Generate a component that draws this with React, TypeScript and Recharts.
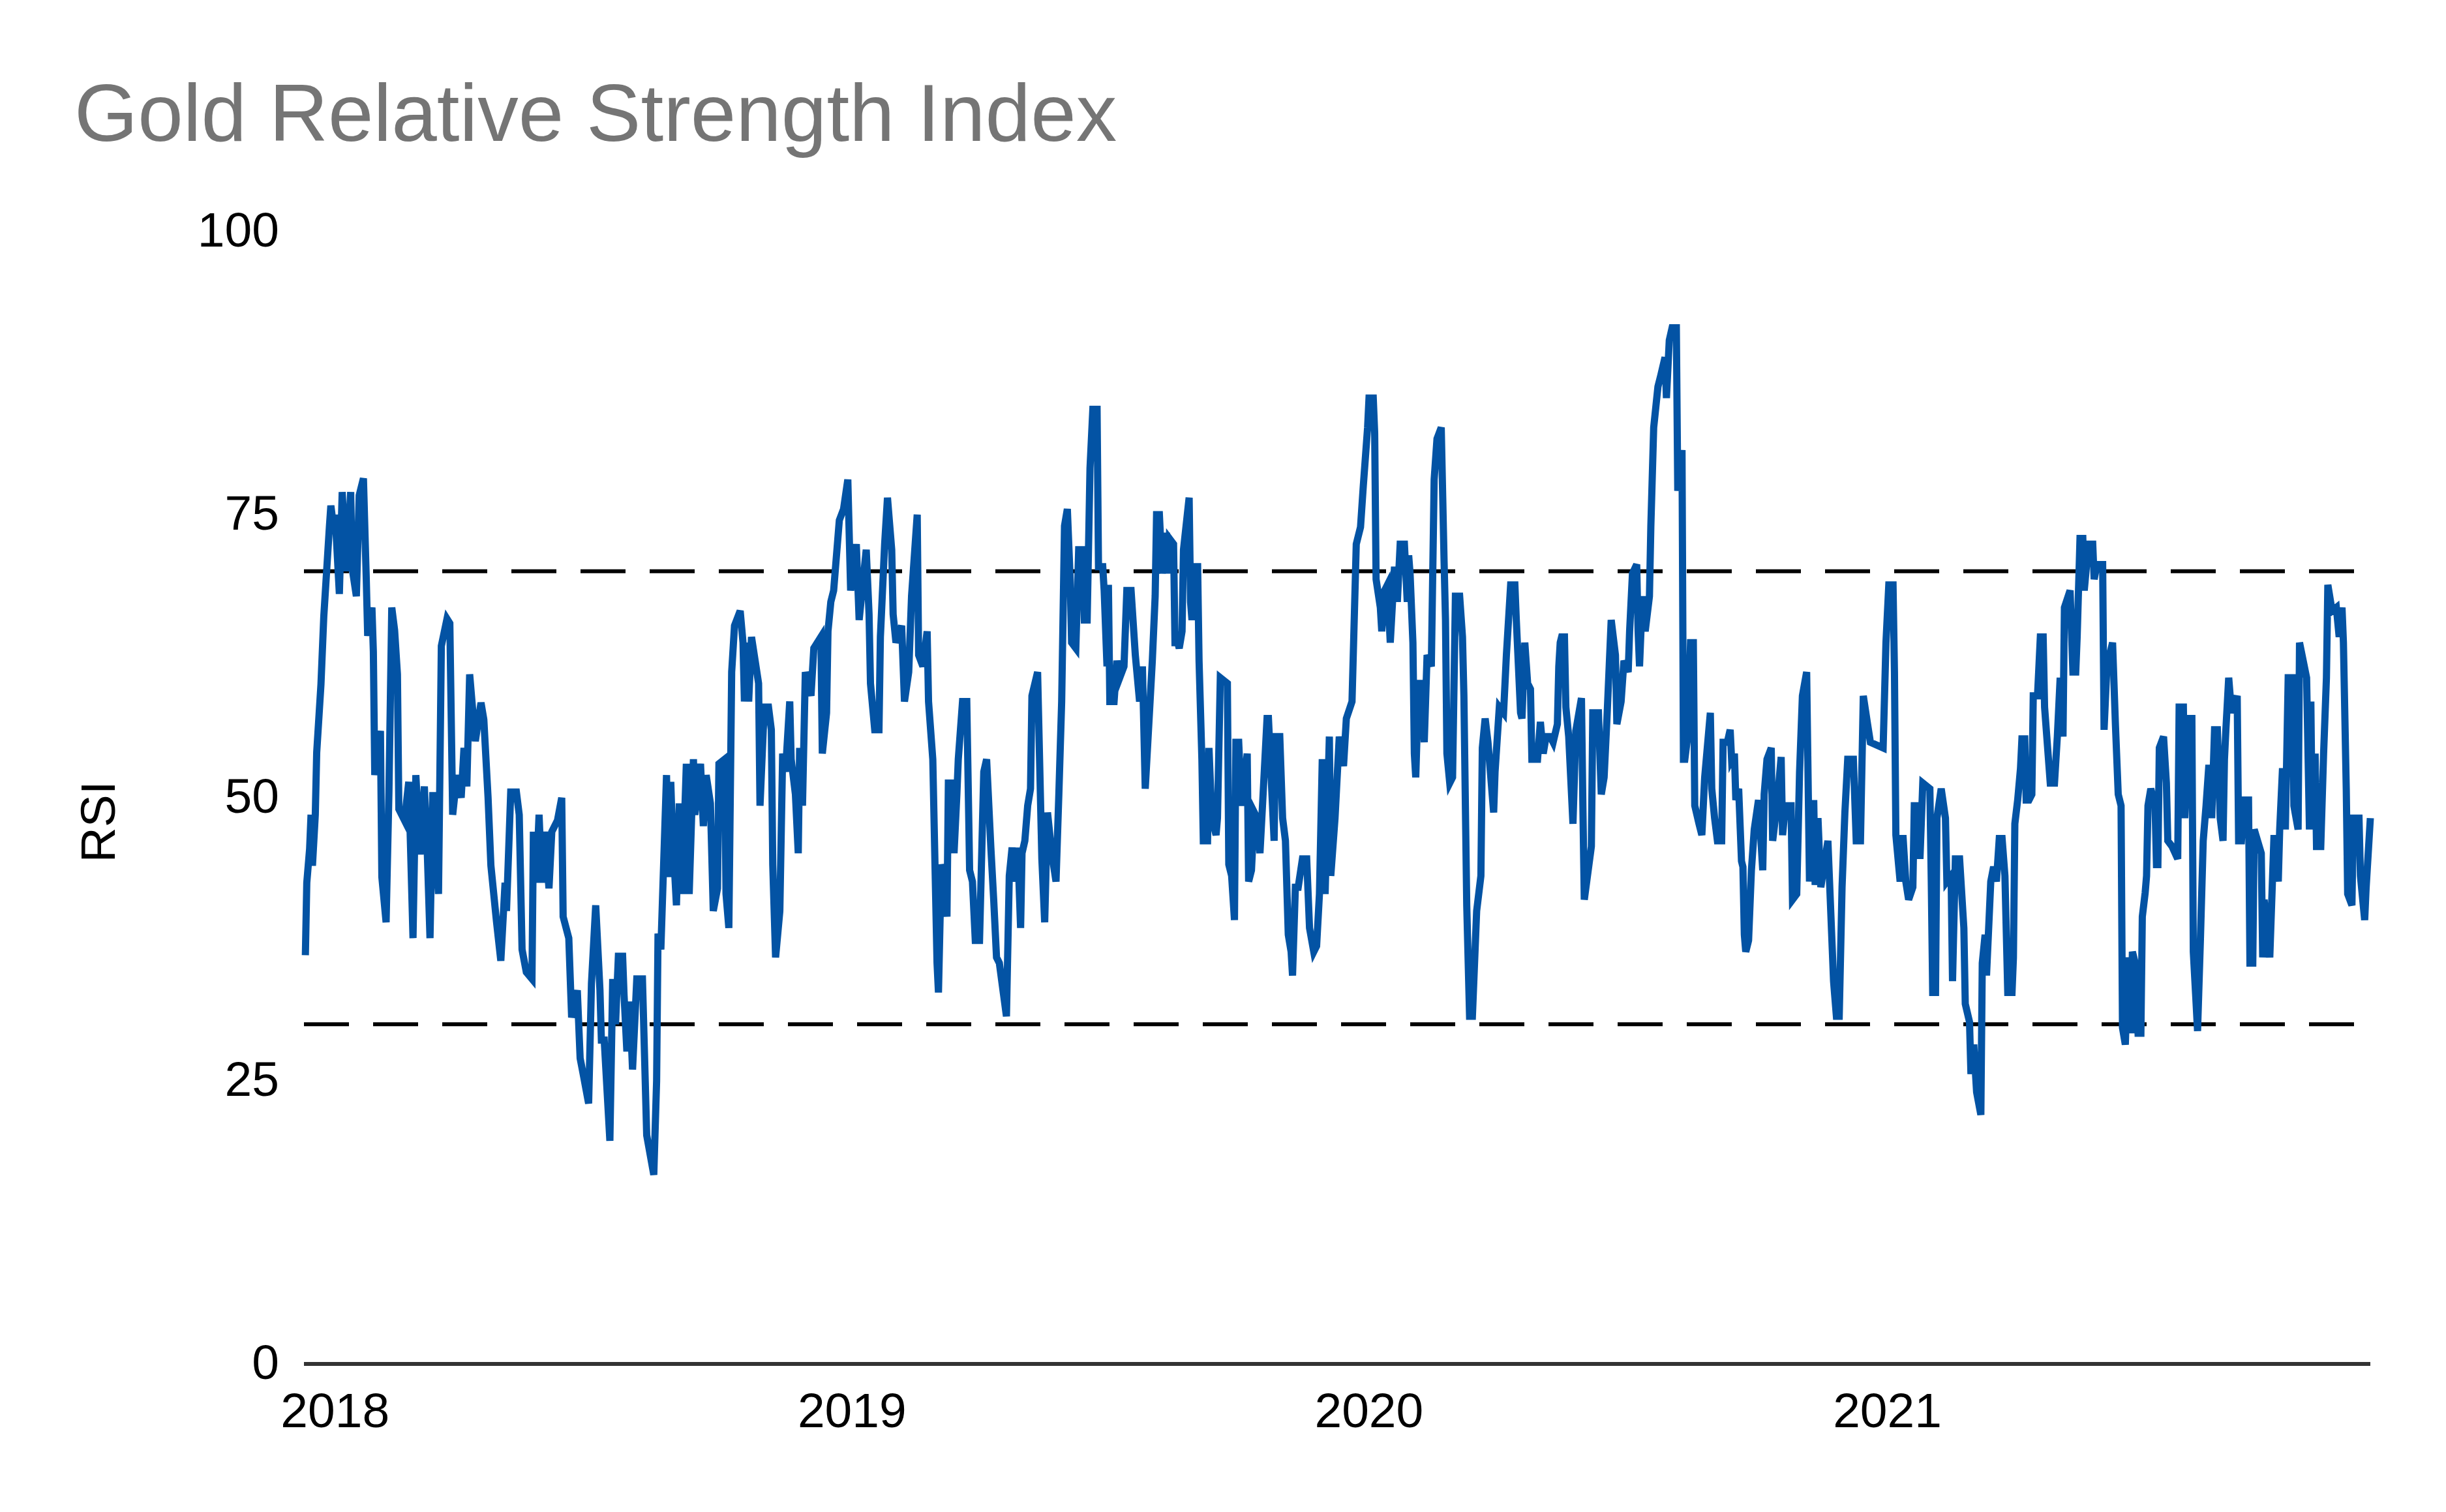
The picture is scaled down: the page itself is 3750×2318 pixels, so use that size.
import { LineChart, Line, XAxis, YAxis, ReferenceLine } from 'recharts';

// days counted from 1 Jan 2018 (negative values fall in Dec 2017)
const dayOffsets = [
  -21, -20, -18, -17, -16, -14, -13, -10, -8, -6,
  -4, -3, -1, 0, 3, 5, 8, 11, 12, 15,
  17, 20, 22, 23, 26, 27, 28, 30, 32, 33,
  36, 38, 40, 42, 44, 45, 49, 52, 55, 57,
  60, 63, 65, 67, 69, 73, 75, 79, 81, 83,
  86, 89, 91, 93, 95, 99, 103, 105, 108, 110,
  114, 117, 120, 121, 124, 128, 130, 132, 135, 139,
  140, 142, 144, 146, 148, 151, 153, 157, 160, 161,
  165, 167, 171, 173, 175, 179, 181, 184, 187, 188,
  190, 194, 196, 198, 200, 203, 204, 206, 208, 210,
  213, 217, 220, 225, 227, 228, 230, 234, 235, 237,
  238, 241, 243, 245, 248, 250, 253, 254, 258, 260,
  262, 265, 267, 270, 271, 275,
  276, 278, 280, 282, 286, 288, 289, 291, 292, 294,
  299, 300, 303, 306, 308, 309, 311, 314, 316, 318,
  321, 322, 325, 327, 328, 330, 332, 336, 338, 343,
  344, 347, 348, 350, 352, 356, 359, 362, 364, 368,
  370, 375, 377, 378, 381, 384, 385, 388, 390, 393,
  394, 396, 400, 402, 405, 407, 411, 412, 415, 418,
  419, 422, 425, 426, 428, 430, 432, 433, 436, 437,
  439, 440, 443, 446, 448, 450, 452, 455, 458, 460,
  463, 465, 467, 469, 474, 476, 478, 480, 482, 484,
  485, 487, 489, 491, 492, 496, 499, 501, 503, 506,
  509, 511, 513, 515, 517, 519, 520, 523, 525, 528,
  529, 531, 533, 535, 538, 539, 542, 543, 545, 546,
  547, 550, 552, 554, 557, 559, 562, 565, 568, 570,
  572,
  577, 579, 580, 582, 584, 587, 588, 589, 592, 593,
  595, 596, 598, 599, 603, 604, 605, 607, 609, 610,
  612, 613, 616, 617, 619, 622, 623, 625, 630, 631,
  633, 635, 636, 638, 640, 644, 645, 647, 649, 651,
  653, 655, 658, 659, 663, 664, 667, 669, 671, 673,
  675, 676, 678, 680, 683, 686, 688, 691, 693, 695,
  697, 699, 702, 703, 706, 709, 712, 714, 718, 721,
  724, 726, 729, 730, 733, 734, 735, 738, 739, 741,
  743, 745, 748, 750, 752, 755, 757, 758, 759, 761,
  762, 763, 765, 767, 769, 771, 774, 776, 778, 781,
  783, 784, 785, 787, 789, 791, 794, 796, 797, 799,
  801, 803, 804, 806, 809, 810, 812, 814, 818, 819,
  822, 825, 827, 830, 833, 834, 837, 838, 840, 842,
  844, 845, 849, 851, 853, 855, 858, 860, 863, 864,
  865, 866, 868, 869, 871, 874,
  876, 880, 881, 882, 887, 888, 892, 894, 896, 898,
  901, 904, 905, 908, 910, 913, 914, 916, 919, 920,
  921, 923, 925, 928, 929, 931, 934, 936, 939, 940,
  942, 944, 947, 948, 951, 952, 953, 955, 957, 959,
  960, 963, 965, 967, 971, 972, 974, 976, 979, 980,
  983, 985, 986, 988, 989, 991, 993, 994, 995, 996,
  998, 1000, 1002, 1005, 1008, 1009, 1011, 1014, 1015, 1018,
  1021, 1022, 1024, 1028, 1029, 1032, 1034, 1036, 1039, 1041,
  1044, 1045, 1047, 1049, 1054, 1056, 1058, 1060, 1062, 1064,
  1066, 1068, 1072, 1074, 1077, 1079, 1082, 1084, 1093, 1095,
  1097, 1100, 1101, 1102, 1105, 1107, 1109, 1111, 1114, 1115,
  1118, 1119, 1121, 1126, 1127, 1128, 1130, 1131, 1134, 1137,
  1138, 1141, 1142, 1144, 1147, 1150, 1151, 1154, 1155, 1157,
  1159, 1162, 1163, 1165, 1166, 1169, 1171, 1173, 1175, 1177,
  1179, 1181, 1184, 1185, 1186, 1188, 1190, 1191, 1193, 1194,
  1196, 1198, 1199, 1202, 1204, 1206, 1207, 1211, 1214, 1216,
  1218, 1220, 1221, 1225, 1227, 1229, 1230, 1232, 1234, 1235,
  1238, 1241, 1242, 1244, 1248, 1249, 1251, 1255, 1257, 1259,
  1261, 1262, 1264, 1266, 1268, 1269, 1271, 1273, 1275, 1276,
  1278, 1279, 1280, 1282, 1285, 1286, 1287, 1288, 1291, 1293,
  1294, 1297, 1301, 1302, 1305, 1306, 1309, 1311, 1312, 1314,
  1315, 1317, 1319, 1321, 1323, 1325, 1327, 1329, 1331, 1333,
  1334, 1335, 1337, 1339, 1343, 1344, 1346, 1348, 1351, 1352,
  1354, 1355, 1360, 1361, 1362, 1366, 1367, 1369, 1372, 1373,
  1375, 1377, 1379, 1382, 1383, 1386, 1387, 1392, 1394, 1395,
  1396, 1398, 1399, 1402, 1404, 1406, 1407, 1410, 1413, 1415,
  1417, 1418, 1420, 1421, 1424, 1425, 1429, 1430, 1433, 1434,
  1437,
];

const rsiValues = [
  36.1, 42.5, 45.5, 48.5, 44, 48.5, 54, 60, 66, 70,
  74, 75.8, 73.8, 75, 68, 77, 70, 77, 70.3, 67.8,
  76.7, 78.2, 69.3, 64.3, 66.8, 62.9, 52, 54.4, 55.9, 43,
  39, 50.5, 66.8, 64.8, 60.9, 49, 48, 51.4, 37.6, 52,
  45, 51, 45.5, 37.6, 50.5, 41.5, 63.4, 65.8, 65.4, 48.5,
  52, 50, 54.4, 51, 60.9, 55, 58.4, 56.9, 50, 44,
  39, 35.6, 42.5, 40, 50.5, 50.5, 48.5, 36.6, 34.6, 34,
  47, 42.5, 48.5, 42.5, 47, 42, 47, 48, 50, 39.5,
  37.6, 30.6, 33, 27, 25.7, 23, 33.6, 40.5, 33, 28.6,
  28.6, 19.7, 34, 30, 36, 36, 32.6, 27.6, 32, 26,
  34, 34, 20.2, 16.7, 25, 38, 36.6, 52, 43, 51.4,
  47.5, 40.5, 49.5, 41.5, 53, 41.5, 53.4, 48.5, 53, 47.5,
  52, 49.5, 40, 42, 53, 53.4,
  41.5, 38.5, 61.1, 65.2, 66.5, 63.7, 58.5, 63.7, 58.5, 64.2,
  60.1, 49.3, 58, 58, 56, 44.1, 35.9, 40, 53.9, 52.3,
  58.5, 53.4, 50.3, 45.1, 54.4, 49.3, 61.1, 59, 63.2, 64.2,
  53.9, 57.5, 64.7, 67.3, 68.3, 74.5, 75.5, 78.1, 68.3, 72.4,
  65.7, 71.9, 66.2, 60.1, 56, 56, 64.2, 72.4, 76.5, 71.9,
  66.2, 63.7, 65.2, 58.5, 61.1, 67.8, 75, 62.6, 61.6, 64.7,
  58.5, 53.4, 35.4, 32.8, 44.1, 43.1, 39.5, 51.3, 51.3, 45.1,
  50.3, 53.4, 58.5, 58.5, 43.6, 42.6, 37.4, 37.4, 52.3, 53.4,
  45.6, 41, 35.9, 35.4, 30.7, 43.1, 45.6, 42.6, 45.6, 38.5,
  45.1, 46.2, 49.3, 50.8, 59, 61.1, 44.6, 39, 48.7, 45.1,
  42.6, 50.3, 58.5, 74, 75.5, 69.3, 63.7, 63.2, 71.9, 71.9,
  65.7, 65.7, 79.1, 84.3, 84.3, 70.4, 70.4, 68.3, 61.6, 68.8,
  58.5, 58.5, 62.1, 60.6, 61.6, 68.3, 68.3, 62.6, 58.5, 61.6,
  50.8,
  62.1, 67.8, 75, 75, 69.8, 73.4, 69.8, 72.9, 72.4, 63.7,
  63.7, 63.2, 64.7, 71.9, 76.5, 67.3, 65.7, 70.4, 70.4, 62.1,
  53.4, 46.2, 46.2, 54.4, 48.2, 46.7, 48.2, 60.6, 60.1, 44.1,
  43.1, 39.2, 54.9, 54.9, 49.3, 53.9, 42.6, 43.6, 48.7, 48.2,
  45.1, 49.8, 57, 57, 46.2, 55.4, 55.4, 48.2, 46.2, 37.9,
  36.4, 34.3, 42.1, 42.1, 44.6, 44.6, 38.5, 36.4, 36.9, 41.5,
  53.4, 41.5, 55.4, 43.1, 48.2, 55.4, 52.8, 57, 58.5, 72.4,
  73.9, 77.6, 82.7, 85.3, 85.3, 82.2, 69.3, 66.8, 64.7, 68.3,
  68.8, 63.7, 70.4, 67.3, 72.4, 72.4, 67.3, 71.4, 69.8, 63.7,
  53.9, 51.8, 60.1, 60.1, 54.9, 62.6, 61.6, 78.1, 81.7, 82.7,
  70.9, 65.7, 53.9, 51.3, 51.8, 67.8, 67.8, 64.2, 59, 40.5,
  30.7, 30.7, 33.8, 40, 43.1, 54.4, 57, 54.9, 48.7, 52.3,
  58, 57.5, 62.6, 68.8, 68.8, 65.7, 57.5, 57, 63.7, 60.1,
  59.6, 53.4, 53.4, 56.7, 53.9, 55.4, 55.4, 54.9, 56.5, 61.6,
  63.7, 64.2, 64.2, 58, 55.4, 47.7,
  55.9, 58.8, 49.3, 41, 45.7, 57.5, 57.5, 50.3, 51.8, 57,
  65.7, 62.6, 56.5, 58.5, 62.1, 61.1, 64.7, 69.8, 70.6, 64.7,
  61.6, 67.8, 64.7, 67.8, 74, 82.7, 86.3, 87.3, 88.9, 85.3,
  90.4, 91.5, 91.5, 77.1, 80.7, 53.4, 53.4, 55.4, 63.7, 63.7,
  49.3, 47.7, 46.7, 51.8, 57.5, 50.8, 48.2, 46.2, 46.2, 54.9,
  54.9, 56, 53.4, 53.9, 49.8, 50.8, 44.4, 43.9, 37.9, 36.4,
  37.4, 43.6, 47.2, 49.8, 43.6, 50.3, 53.4, 54.4, 46.2, 49.3,
  53.6, 46.7, 49.3, 49.3, 41, 41.5, 52.3, 59, 61.1, 42.6,
  49.8, 42.3, 48.2, 42.1, 46.2, 40, 33.8, 30.7, 30.7, 42.1,
  48.7, 53.4, 53.4, 46.2, 46.2, 59, 56.5, 54.9, 54.4, 63.7,
  68.8, 68.8, 61.1, 46.7, 42.6, 46.7, 42.6, 41, 42.1, 49.3,
  49.3, 44.6, 51.3, 50.8, 42.6, 32.8, 32.8, 48.2, 50.8, 48.2,
  42.6, 43.1, 33.8, 44.6, 44.6, 38.5, 31.8, 30.2, 25.6, 28.2,
  24, 22, 35.4, 37.9, 34.3, 42.6, 43.9, 42.6, 46.4, 46.4,
  43.1, 32.8, 32.8, 35.9, 47.7, 49.8, 52.6, 55.2, 55.2, 49.8,
  49.8, 50.3, 59, 59, 64.2, 64.2, 58, 51.3, 51.3, 55.4,
  60.6, 55.4, 66.8, 68.3, 61.1, 61.1, 64.2, 72.9, 72.9, 68.3,
  72.4, 72.4, 69.3, 70.6, 70.6, 56, 61.6, 63.7, 56.5, 50.3,
  49.3, 29.7, 28.2, 35.9, 29.2, 36.4, 35.4, 29.2, 29.2, 39.5,
  41.6, 43.1, 49.3, 50.8, 49.3, 44.1, 44.1, 54.4, 55.4, 51.3,
  46.2, 45.7, 44.6, 58, 58, 48.2, 57, 57, 36.4, 31.8,
  29.4, 37.4, 46.2, 49.3, 52.9, 48.2, 56, 56, 48.2, 46.2,
  53.4, 56, 60.6, 57.5, 59, 46.2, 46.2, 49.8, 49.8, 35.4,
  35.4, 47.2, 45.1, 35.9, 41, 35.9, 39.5, 46.7, 42.6, 47.2,
  52.6, 47.2, 60.6, 60.6, 49.3, 47.2, 63.7, 60.6, 47.2, 58.5,
  47.2, 53.9, 45.7, 45.7, 53.9, 60.6, 68.8, 66.5, 66.8, 64.2,
  66.8, 63.7, 50.8, 41.5, 40.5, 48.2, 48.2, 43.1, 39.2, 42,
  48.2,
];

const yearTickDays = [0, 365, 730, 1096];
const yearTickLabels = ['2018', '2019', '2020', '2021'];
const rsiTicks = [0, 25, 50, 75, 100];
const overbought = 70;
const oversold = 30;

const data = dayOffsets.map((day, i) => ({ day, rsi: rsiValues[i] }));

const font = '"Liberation Sans", Arial, sans-serif';

export default function App() {
  return (
    <div
      style={{
        position: 'absolute',
        left: 0,
        top: 0,
        width: 3750,
        height: 2318,
        background: '#fff',
        fontFamily: font,
      }}
    >
      <LineChart
        width={3750}
        height={2318}
        data={data}
        margin={{ top: 355, right: 116, bottom: 127, left: 166 }}
      >
        <XAxis
          dataKey="day"
          type="number"
          domain={[-22, 1437]}
          ticks={yearTickDays}
          tickFormatter={(d) => yearTickLabels[yearTickDays.indexOf(d)]}
          height={100}
          tickSize={0}
          tickMargin={44}
          tickLine={false}
          axisLine={{ stroke: '#333333', strokeWidth: 6 }}
          tick={{ fill: '#000', fontSize: 75, fontFamily: font }}
        />
        <YAxis
          type="number"
          domain={[0, 100]}
          ticks={rsiTicks}
          width={300}
          tickSize={0}
          tickMargin={38}
          tickLine={false}
          axisLine={false}
          tick={{ fill: '#000', fontSize: 75, fontFamily: font, dy: -4 }}
        />
        <ReferenceLine y={overbought} stroke="#000" strokeWidth={6} strokeDasharray="69 37" />
        <ReferenceLine y={oversold} stroke="#000" strokeWidth={6} strokeDasharray="69 37" />
        <Line
          type="linear"
          dataKey="rsi"
          stroke="#0353A4"
          strokeWidth={11}
          dot={false}
          activeDot={false}
          isAnimationActive={false}
        />
      </LineChart>
      <svg
        width={3750}
        height={2318}
        style={{ position: 'absolute', left: 0, top: 0, pointerEvents: 'none' }}
      >
        <text x={114} y={216} fontSize={125} fill="#757575" fontFamily={font}>
          Gold Relative Strength Index
        </text>
        <text
          x={176}
          y={1260}
          fontSize={75}
          fill="#000"
          fontFamily={font}
          textAnchor="middle"
          transform="rotate(-90 176 1260)"
        >
          RSI
        </text>
      </svg>
    </div>
  );
}
